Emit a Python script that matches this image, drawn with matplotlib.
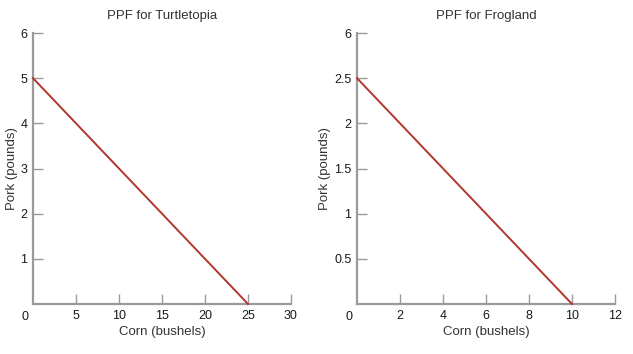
import matplotlib
matplotlib.use("Agg")
import matplotlib.pyplot as plt
from matplotlib import font_manager

fams = {f.name for f in font_manager.fontManager.ttflist}
fam = ["Liberation Sans Narrow", "DejaVu Sans"] if "Liberation Sans Narrow" in fams else ["Liberation Sans", "DejaVu Sans"]
plt.rcParams["font.family"] = fam

# Data
titles = ["PPF for Turtletopia", "PPF for Frogland"]
corn_a = [0, 25]
pork_a = [5, 0]
corn_b = [0, 10]
pork_b = [2.5, 0]
xticks_a = [5, 10, 15, 20, 25, 30]
yticks_a = [1, 2, 3, 4, 5, 6]
yticklabels_a = ["1", "2", "3", "4", "5", "6"]
xticks_b = [2, 4, 6, 8, 10, 12]
yticks_b = [0.5, 1, 1.5, 2, 2.5, 3]
yticklabels_b = ["0.5", "1", "1.5", "2", "2.5", "6"]

fig = plt.figure(figsize=(6.33, 3.54), dpi=100)
ax1 = fig.add_axes([33/633, 50/354, 258/633, 271/354])
ax2 = fig.add_axes([357/633, 50/354, 258/633, 271/354])

axis_col = "#9a9a9a"
line_col = "#b2372b"

def style(ax, title, xt, yt, ytl, xmax, ymax):
    ax.set_xlim(0, xmax)
    ax.set_ylim(0, ymax)
    for s in ["top", "right"]:
        ax.spines[s].set_visible(False)
    for s in ["left", "bottom"]:
        ax.spines[s].set_color(axis_col)
        ax.spines[s].set_linewidth(1.6)
    ax.set_xticks(xt)
    ax.set_xticklabels([str(v) for v in xt])
    ax.set_yticks(yt)
    ax.set_yticklabels(ytl)
    ax.tick_params(direction="in", length=7.5, width=1, color=axis_col,
                   labelsize=9, pad=4, labelcolor="#1a1a1a")
    ax.set_title(title, fontsize=9.5, color="#333333", pad=10)
    ax.set_xlabel("Corn (bushels)", fontsize=9.5, color="#333333", labelpad=3)
    ax.set_ylabel("Pork (pounds)", fontsize=9.5, color="#333333", labelpad=2)
    ax.annotate("0", xy=(0, 0), xycoords="axes fraction", xytext=(-6, -9),
                textcoords="offset points", ha="center", va="center",
                fontsize=9, color="#1a1a1a")

ax1.plot(corn_a, pork_a, color=line_col, lw=1.4, clip_on=False, zorder=3)
style(ax1, titles[0], xticks_a, yticks_a, yticklabels_a, 30, 6)
ax2.plot(corn_b, pork_b, color=line_col, lw=1.4, clip_on=False, zorder=3)
style(ax2, titles[1], xticks_b, yticks_b, yticklabels_b, 12, 3)

fig.savefig("out.png", dpi=100, facecolor="white")
